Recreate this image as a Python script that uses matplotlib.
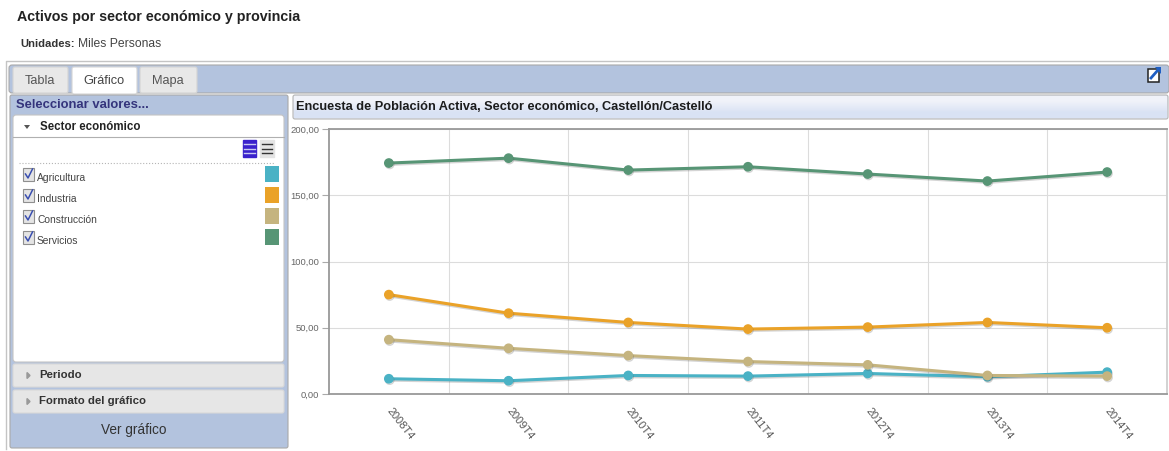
import matplotlib
matplotlib.use("Agg")
import matplotlib.pyplot as plt
import matplotlib.patheffects as pe
from matplotlib.patches import Rectangle, FancyBboxPatch, Polygon
from matplotlib.transforms import ScaledTranslation

W, H = 1169, 451

periodos = ["2008T4", "2009T4", "2010T4", "2011T4", "2012T4", "2013T4", "2014T4"]
agricultura = [11.5, 10, 14, 13.5, 15.5, 13, 16.5]
industria = [75, 61, 54, 49, 50.5, 54, 50]
construccion = [41, 34.5, 29, 24.5, 22, 14, 13.5]
servicios = [174.3, 178, 169, 171.5, 166, 160.7, 167.5]

sectores = ["Agricultura", "Industria", "Construcción", "Servicios"]
colores = ["#4ab2c5", "#eaa228", "#c5b47f", "#579575"]
series = [agricultura, industria, construccion, servicios]
ticks_y = [0, 50, 100, 150, 200]

plt.rcParams["font.family"] = ["Liberation Sans", "DejaVu Sans"]
AZUL = "#b3c3de"
BORDE = "#a9a9a9"

fig = plt.figure(figsize=(W / 100, H / 100), dpi=100, facecolor="white")

# capa de fondo en pixeles para la interfaz
bg = fig.add_axes([0, 0, 1, 1])
bg.axis("off")


def caja(x, y, w, h, fc, ec=BORDE, lw=0.8, r=2):
    bg.add_patch(FancyBboxPatch((x + r, y + r), w - 2 * r, h - 2 * r,
                                boxstyle="round,pad=%d,rounding_size=%d" % (r, r),
                                fc=fc, ec=ec, lw=lw))


def texto(x, y, s, size=9, color="#333333", **kw):
    kw.setdefault("va", "center")
    bg.text(x, y, s, fontsize=size, color=color, **kw)


texto(17, 17, "Activos por sector económico y provincia", 10.3, "#222222", fontweight="bold")
texto(20, 44, "Unidades:", 8.1, "#333333", fontweight="bold")
texto(78, 44, "Miles Personas", 8.7, "#444444")

# marco general y barra de pestañas
bg.plot([6, 6, 1169], [449, 61, 61], color="#c4c4c4", lw=1)
caja(9, 65, 1160, 28, AZUL, r=3)
caja(13, 67, 55, 26, "#e8e8e8", ec="#d4d4d4")
caja(72, 67, 65, 27, "white", ec="#d4d4d4")
caja(140, 67, 57, 26, "#e8e8e8", ec="#d4d4d4")
texto(40, 81, "Tabla", 9.2, "#555555", ha="center")
texto(104, 81, "Gráfico", 9.2, "#444444", ha="center")
texto(168, 81, "Mapa", 9.2, "#555555", ha="center")

# icono de exportar
bg.add_patch(Rectangle((1148, 69), 11, 13, fc="white", ec="#222222", lw=1.1))
bg.plot([1151, 1158], [78, 70], color="#1f5fc4", lw=2)
bg.add_patch(Polygon([[1155, 67], [1161, 67], [1161, 74]], fc="#1f5fc4", ec="none"))

# panel izquierdo
caja(10, 95, 278, 353, AZUL, r=2)
texto(16, 105, "Seleccionar valores...", 9.4, "#34347c", fontweight="bold")
caja(13, 115, 271, 247, "white", ec="#c4c4c4", r=3)
bg.plot([13, 284], [137, 137], color="#b0b0b0", lw=0.8)
bg.add_patch(Polygon([[24, 125], [30, 125], [27, 129]], fc="#555555", ec="none"))
texto(40, 127, "Sector económico", 8.3, "#222222", fontweight="bold")

# botones marcar / desmarcar
bg.add_patch(Rectangle((243, 140), 13, 17, fc="#3a22cc", ec="#3a22cc"))
bg.add_patch(Rectangle((260, 140), 14, 17, fc="#e4e4e4", ec="#e4e4e4"))
for yy in [144, 148.5, 153]:
    bg.plot([244, 255], [yy, yy], color="#c8c8f0", lw=1)
    bg.plot([262, 272], [yy, yy], color="#333333", lw=1)
bg.plot([19, 274], [163, 163], color="#b5b5b5", lw=0.8, ls=":")

filas = [177, 198, 219, 240]
for s, c, yy in zip(sectores, colores, filas):
    bg.add_patch(Rectangle((23, yy - 9), 11, 13, fc="#e4e4e4", ec="#8f8f8f", lw=0.8))
    bg.plot([25.5, 28, 32.5], [yy - 3, yy + 1, yy - 8], color="#3a4fb0", lw=1.1)
    texto(37, yy + 1, s, 7.4, "#444444")
    bg.add_patch(Rectangle((265, yy - 11), 14, 16, fc=c, ec="none"))

caja(13, 364, 271, 23, "#e6e6e6", ec="#d8d8d8")
caja(13, 390, 271, 23, "#e6e6e6", ec="#d8d8d8")
for yy, s in zip([375.5, 401.5], ["Periodo", "Formato del gráfico"]):
    bg.fill([27, 27, 30], [yy - 3, yy + 3, yy], color="#999999")
    texto(39, yy, s, 8.2, "#333333", fontweight="bold")
texto(134, 430, "Ver gráfico", 9.8, "#333333", ha="center")

# cabecera del grafico, con degradado
caja(293, 95, 875, 24, "#e6ebf6", ec="#b5b5b5", r=2)
bg.imshow([[0.0], [1.0]], extent=(294, 1167, 118, 96), aspect="auto", zorder=2,
          interpolation="bilinear",
          cmap=matplotlib.colors.LinearSegmentedColormap.from_list("g", ["#f0f2f9", "#d9e2f4"]))
bg.set_xlim(0, W)
bg.set_ylim(H, 0)
texto(296, 107, "Encuesta de Población Activa, Sector económico, Castellón/Castelló",
      9.2, "#1c1c1c", fontweight="bold", zorder=3)

# grafico de lineas
ax = fig.add_axes([329 / W, 1 - 394 / H, (1167 - 329) / W, (394 - 129) / H])
ax.set_xlim(-0.5, 6.5)
ax.set_ylim(0, 200)
ax.set_facecolor("white")
for x in range(6):
    ax.axvline(x + 0.5, color="#dcdcdc", lw=0.8, zorder=1)
ax.set_yticks(ticks_y, ["%d,00" % t for t in ticks_y])
ax.grid(axis="y", color="#dcdcdc", lw=0.8, zorder=1)
ax.tick_params(axis="y", labelsize=6.8, labelcolor="#666666", color="#aaaaaa",
               length=5, width=0.8, pad=2)
for s in ax.spines.values():
    s.set_color("#999999")
    s.set_linewidth(1.3)
ax.spines["right"].set_color("#cfcfcf")

sombra = [pe.SimpleLineShadow(offset=(0.6, -1), shadow_color="#555555", alpha=0.25), pe.Normal()]
x_pos = list(range(len(periodos)))
for y, c in zip(series, colores):
    ax.plot(x_pos, y, color=c, lw=2.2, marker="o", ms=6, zorder=3, clip_on=False,
            path_effects=sombra)

ax.set_xticks(x_pos, periodos)
ax.tick_params(axis="x", length=0, pad=9, labelsize=7.9, labelcolor="#555555")
desplaza = ScaledTranslation(-4 / 100, 0, fig.dpi_scale_trans)
for lab in ax.get_xticklabels():
    lab.set_rotation(-52)
    lab.set_ha("left")
    lab.set_va("top")
    lab.set_transform(lab.get_transform() + desplaza)

fig.savefig("out.png", dpi=100)
